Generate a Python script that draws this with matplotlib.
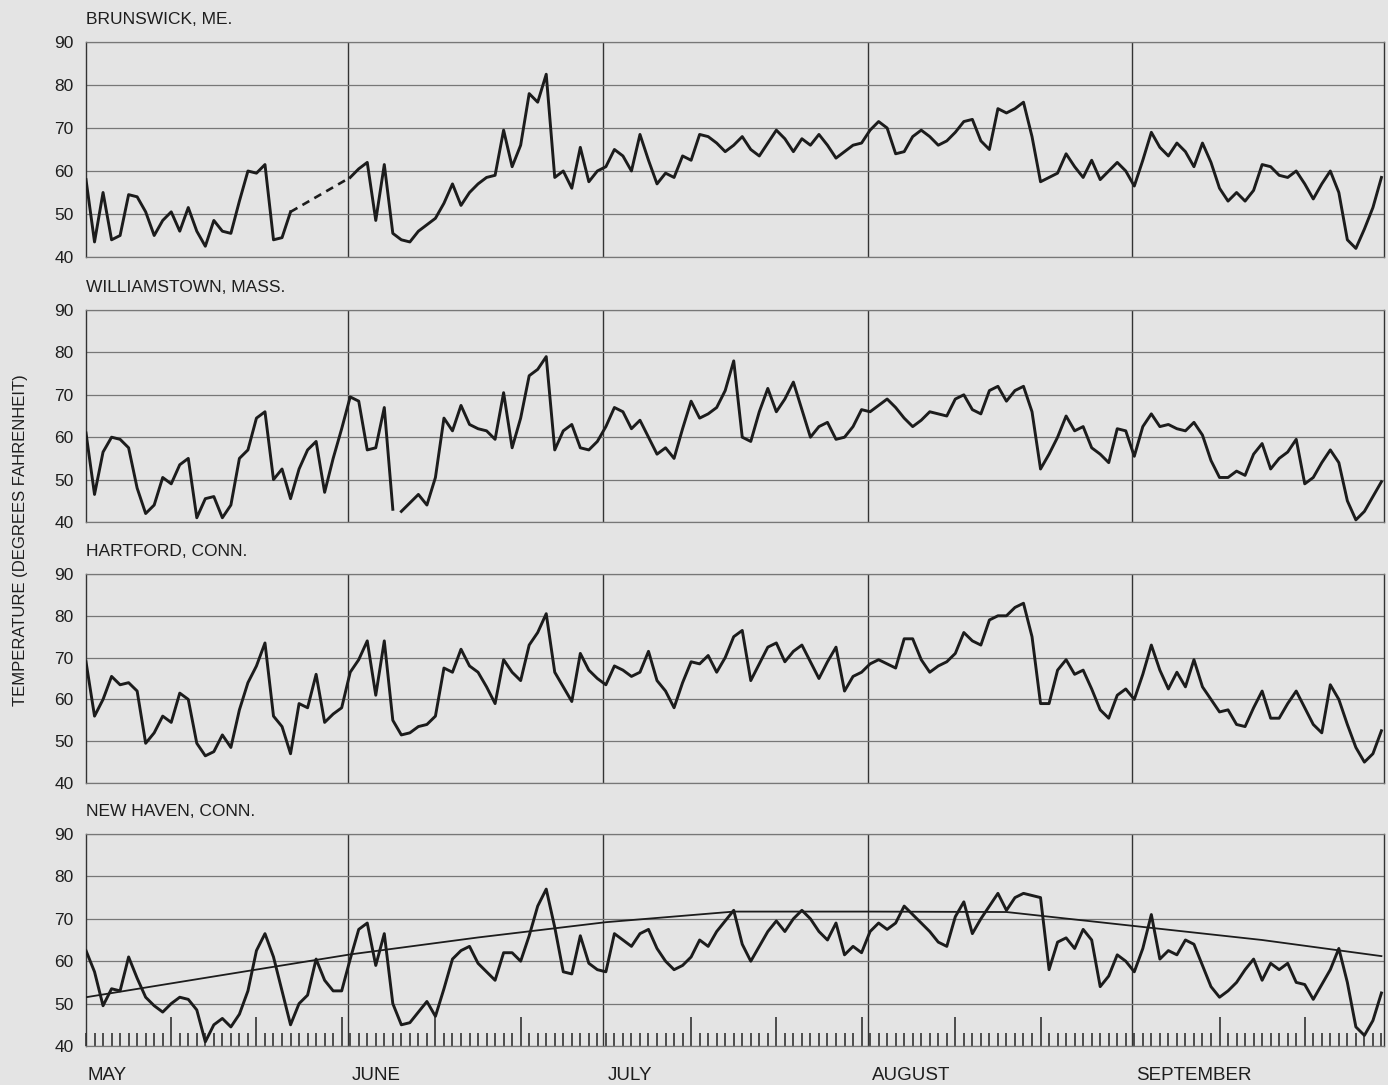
import numpy as np
import matplotlib
matplotlib.use("Agg")
import matplotlib.pyplot as plt
from matplotlib.ticker import MultipleLocator, FixedLocator
import matplotlib.transforms as mtransforms

plt.rcParams['font.family'] = ['Liberation Sans', 'DejaVu Sans']

# daily mean temperatures, May 1 (day 0) .. Sept 30 (day 152)
nan = np.nan
brunswick = [58, 43.5, 55, 44, 45, 54.5, 54, 50.5, 45, 48.5,
             50.5, 46, 51.5, 46, 42.5, 48.5, 46, 45.5, 53, 60,
             59.5, 61.5, 44, 44.5, 50.5, nan, nan, nan, nan, nan,
             nan, 58.5, 60.5, 62, 48.5, 61.5, 45.5, 44, 43.5, 46,
             47.5, 49, 52.5, 57, 52, 55, 57, 58.5, 59, 69.5,
             61, 66, 78, 76, 82.5, 58.5, 60, 56, 65.5, 57.5,
             60, 61, 65, 63.5, 60, 68.5, 62.5, 57, 59.5, 58.5,
             63.5, 62.5, 68.5, 68, 66.5, 64.5, 66, 68, 65, 63.5,
             66.5, 69.5, 67.5, 64.5, 67.5, 66, 68.5, 66, 63, 64.5,
             66, 66.5, 69.5, 71.5, 70, 64, 64.5, 68, 69.5, 68,
             66, 67, 69, 71.5, 72, 67, 65, 74.5, 73.5, 74.5,
             76, 68, 57.5, 58.5, 59.5, 64, 61, 58.5, 62.5, 58,
             60, 62, 60, 56.5, 62.5, 69, 65.5, 63.5, 66.5, 64.5,
             61, 66.5, 62, 56, 53, 55, 53, 55.5, 61.5, 61,
             59, 58.5, 60, 57, 53.5, 57, 60, 55, 44, 42,
             46.5, 51.5, 58.5]

williamstown = [61, 46.5, 56.5, 60, 59.5, 57.5, 48, 42, 44, 50.5,
                49, 53.5, 55, 41, 45.5, 46, 41, 44, 55, 57,
                64.5, 66, 50, 52.5, 45.5, 52.5, 57, 59, 47, 55,
                62, 69.5, 68.5, 57, 57.5, 67, 43, 42.5, 44.5, 46.5,
                44, 50.5, 64.5, 61.5, 67.5, 63, 62, 61.5, 59.5, 70.5,
                57.5, 64.5, 74.5, 76, 79, 57, 61.5, 63, 57.5, 57,
                59, 62.5, 67, 66, 62, 64, 60, 56, 57.5, 55,
                62, 68.5, 64.5, 65.5, 67, 71, 78, 60, 59, 66,
                71.5, 66, 69, 73, 66.5, 60, 62.5, 63.5, 59.5, 60,
                62.5, 66.5, 66, 67.5, 69, 67, 64.5, 62.5, 64, 66,
                65.5, 65, 69, 70, 66.5, 65.5, 71, 72, 68.5, 71,
                72, 66, 52.5, 56, 60, 65, 61.5, 62.5, 57.5, 56,
                54, 62, 61.5, 55.5, 62.5, 65.5, 62.5, 63, 62, 61.5,
                63.5, 60.5, 54.5, 50.5, 50.5, 52, 51, 56, 58.5, 52.5,
                55, 56.5, 59.5, 49, 50.5, 54, 57, 54, 45, 40.5,
                42.5, 46, 49.5]
williamstown_break = 37   # record missing between day 36 and day 37

hartford = [69, 56, 60, 65.5, 63.5, 64, 62, 49.5, 52, 56,
            54.5, 61.5, 60, 49.5, 46.5, 47.5, 51.5, 48.5, 57.5, 64,
            68, 73.5, 56, 53.5, 47, 59, 58, 66, 54.5, 56.5,
            58, 66.5, 69.5, 74, 61, 74, 55, 51.5, 52, 53.5,
            54, 56, 67.5, 66.5, 72, 68, 66.5, 63, 59, 69.5,
            66.5, 64.5, 73, 76, 80.5, 66.5, 63, 59.5, 71, 67,
            65, 63.5, 68, 67, 65.5, 66.5, 71.5, 64.5, 62, 58,
            64, 69, 68.5, 70.5, 66.5, 70, 75, 76.5, 64.5, 68.5,
            72.5, 73.5, 69, 71.5, 73, 69, 65, 69, 72.5, 62,
            65.5, 66.5, 68.5, 69.5, 68.5, 67.5, 74.5, 74.5, 69.5, 66.5,
            68, 69, 71, 76, 74, 73, 79, 80, 80, 82,
            83, 75, 59, 59, 67, 69.5, 66, 67, 62.5, 57.5,
            55.5, 61, 62.5, 60, 66, 73, 67, 62.5, 66.5, 63,
            69.5, 63, 60, 57, 57.5, 54, 53.5, 58, 62, 55.5,
            55.5, 59, 62, 58, 54, 52, 63.5, 60, 54, 48.5,
            45, 47, 52.5]

new_haven = [62.5, 57.5, 49.5, 53.5, 53, 61, 56, 51.5, 49.5, 48,
             50, 51.5, 51, 48.5, 41, 45, 46.5, 44.5, 47.5, 53,
             62.5, 66.5, 61, 53, 45, 50, 52, 60.5, 55.5, 53,
             53, 60.5, 67.5, 69, 59, 66.5, 50, 45, 45.5, 48,
             50.5, 47, 53.5, 60.5, 62.5, 63.5, 59.5, 57.5, 55.5, 62,
             62, 60, 66, 73, 77, 68, 57.5, 57, 66, 59.5,
             58, 57.5, 66.5, 65, 63.5, 66.5, 67.5, 63, 60, 58,
             59, 61, 65, 63.5, 67, 69.5, 72, 64, 60, 63.5,
             67, 69.5, 67, 70, 72, 70, 67, 65, 69, 61.5,
             63.5, 62, 67, 69, 67.5, 69, 73, 71, 69, 67,
             64.5, 63.5, 70.5, 74, 66.5, 70, 73, 76, 72, 75,
             76, 75.5, 75, 58, 64.5, 65.5, 63, 67.5, 65, 54,
             56.5, 61.5, 60, 57.5, 63, 71, 60.5, 62.5, 61.5, 65,
             64, 59, 54, 51.5, 53, 55, 58, 60.5, 55.5, 59.5,
             58, 59.5, 55, 54.5, 51, 54.5, 58, 63, 55, 44.5,
             42.5, 46, 52.5]

# long-term normal for New Haven, read at a few dates
normal_days = [0, 15, 31, 46, 61, 76, 92, 108, 123, 138, 152]
normal_vals = [51.5, 56.4, 61.6, 65.6, 69.2, 71.7, 71.7, 71.6, 68.3, 65.0, 61.2]

titles = ['BRUNSWICK, ME.', 'WILLIAMSTOWN, MASS.', 'HARTFORD, CONN.', 'NEW HAVEN, CONN.']
month_names = ['MAY', 'JUNE', 'JULY', 'AUGUST', 'SEPTEMBER']
month_starts = [0, 31, 61, 92, 123]
long_ticks = [10, 20, 30, 41, 51, 71, 81, 91, 102, 112, 133, 143]

bg = '#e4e4e4'
ink = '#1c1c1c'
gridc = '#777777'
txt = '#1e1e1e'

fig = plt.figure(figsize=(13.88, 10.85), dpi=100, facecolor=bg)

W, H = 1388.0, 1085.0
left, right = 86 / W, 1384 / W
panels = [(42, 257), (310, 522), (574, 783), (834, 1046)]

days = np.arange(153)
axes = []
for (top_px, bot_px), title in zip(panels, titles):
    ax = fig.add_axes([left, 1 - bot_px / H, right - left, (bot_px - top_px) / H])
    ax.set_facecolor(bg)
    ax.set_xlim(0, 152.3)
    ax.set_ylim(40, 90)
    ax.set_yticks([40, 50, 60, 70, 80, 90])
    ax.tick_params(axis='y', length=0, pad=9, labelsize=12.5, labelcolor=txt)
    ax.set_xticks([])
    ax.grid(axis='y', color=gridc, linewidth=0.9)
    for s in ('top', 'bottom'):
        ax.spines[s].set_color(gridc)
        ax.spines[s].set_linewidth(0.9)
    for s in ('left', 'right'):
        ax.spines[s].set_color('#333333')
        ax.spines[s].set_linewidth(1.0)
    for m in month_starts[1:]:
        ax.axvline(m - 0.3, color='#333333', linewidth=1.0, zorder=1)
    ax.annotate(title, xy=(0, 1), xycoords='axes fraction', xytext=(0, 16),
                textcoords='offset points', va='center', ha='left',
                fontsize=12.5, color=txt)
    axes.append(ax)

lw = 2.1
# Brunswick, with the dashed bridge over missing days
b = np.array(brunswick, dtype=float)
axes[0].plot(days, b, color=ink, linewidth=lw, zorder=3)
miss = np.where(np.isnan(b))[0]
i0, i1 = miss[0] - 1, miss[-1] + 1
axes[0].plot([days[i0], days[i1]], [b[i0], b[i1]], color=ink, linewidth=1.9,
             linestyle=(0, (3, 2.2)), zorder=3)

# Williamstown, two pieces
w = np.array(williamstown, dtype=float)
k = williamstown_break
axes[1].plot(days[:k], w[:k], color=ink, linewidth=lw, zorder=3)
axes[1].plot(days[k:], w[k:], color=ink, linewidth=lw, zorder=3)

axes[2].plot(days, hartford, color=ink, linewidth=lw, zorder=3)

axes[3].plot(days, new_haven, color=ink, linewidth=lw, zorder=3)
axes[3].plot(normal_days, normal_vals, color=ink, linewidth=1.3, zorder=3)

# day ticks along the bottom of the last panel
ax4 = axes[3]
ax4.xaxis.set_minor_locator(MultipleLocator(1))
ax4.xaxis.set_major_locator(FixedLocator(long_ticks))
ax4.tick_params(axis='x', which='minor', direction='in', length=9.5, width=1.2,
                color='#333333', bottom=True)
ax4.tick_params(axis='x', which='major', direction='in', length=21, width=1.2,
                color='#333333', bottom=True, labelbottom=False)

trans = mtransforms.blended_transform_factory(ax4.transData, ax4.transAxes)
for name, m in zip(month_names, month_starts):
    ax4.text(m + 0.2, -0.14, name, transform=trans, ha='left', va='center',
             fontsize=13.5, color=txt)

fig.text(0.0145, 0.502, 'TEMPERATURE (DEGREES FAHRENHEIT)', rotation=90,
         ha='center', va='center', fontsize=12, color=txt)

fig.savefig('out.png', dpi=100, facecolor=bg)
